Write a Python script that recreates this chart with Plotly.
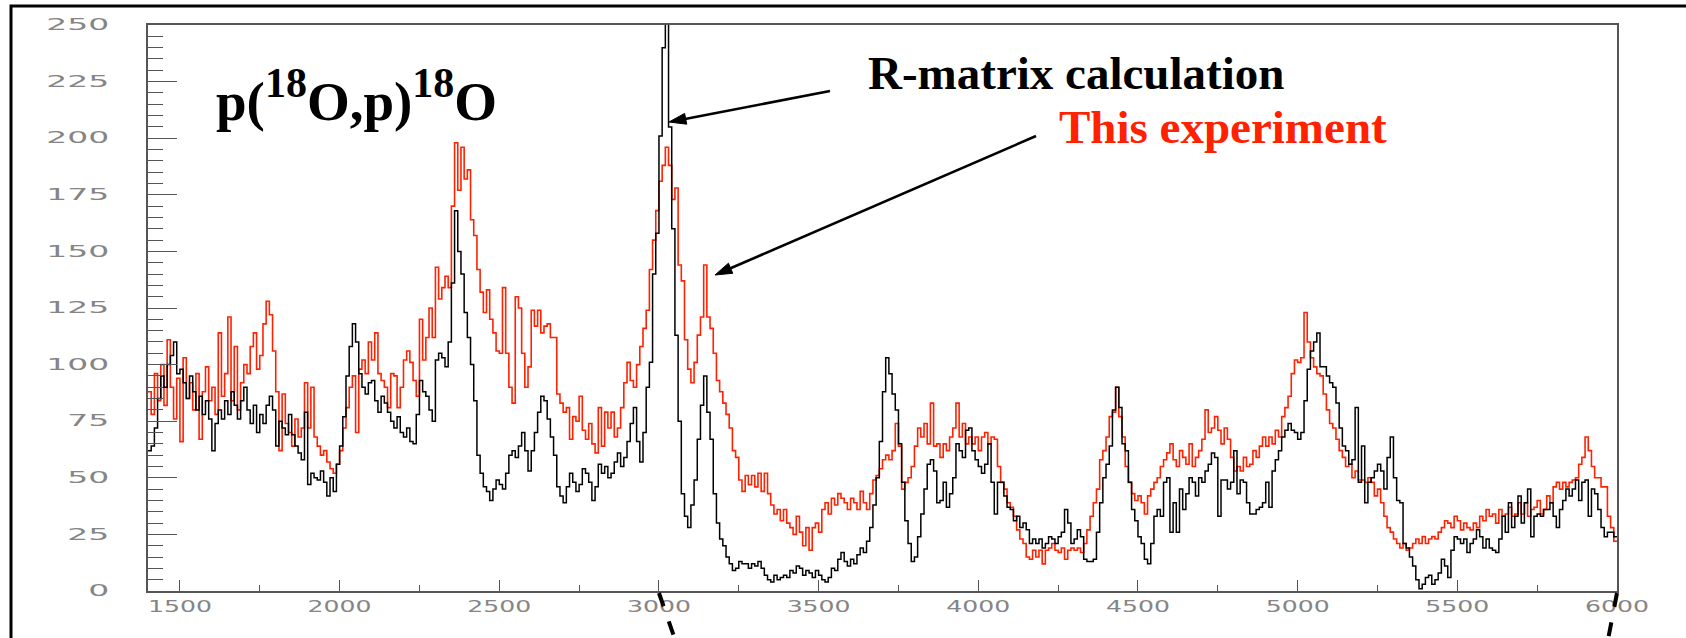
import plotly.graph_objects as go

# ---------------- data ----------------
BIN_START = 1400
BIN_WIDTH = 10
X_RANGE = [1400, 6000]
Y_RANGE = [0, 250]

# R-matrix calculation (black), one value per 10-unit bin, rows of 100 units
rmatrix = [
    62, 64, 72, 85, 95, 90, 100, 104, 110, 96,      # 1400
    98, 92, 85, 95, 88, 80, 86, 78, 84, 76,         # 1500
    62, 74, 80, 76, 84, 78, 88, 82, 76, 84,         # 1600
    90, 80, 74, 82, 70, 78, 74, 82, 86, 80,         # 1700
    64, 75, 72, 69, 78, 69, 64, 61, 58, 79,         # 1800
    47, 52, 50, 49, 53, 48, 42, 50, 44, 56,         # 1900
    64, 77, 95, 108, 118, 110, 96, 90, 87, 92,      # 2000
    93, 84, 79, 86, 83, 79, 75, 72, 77, 70,         # 2100
    68, 72, 66, 65, 78, 93, 88, 86, 80, 75,         # 2200
    102, 105, 103, 99, 110, 136, 168, 150, 140, 123,  # 2300
    112, 100, 84, 60, 52, 46, 44, 40, 45, 49,       # 2400
    47, 45, 52, 60, 62, 59, 64, 70, 62, 53,         # 2500
    62, 70, 79, 86, 84, 76, 68, 60, 46, 42,         # 2600
    39, 46, 52, 48, 44, 47, 54, 52, 48, 40,         # 2700
    46, 56, 52, 55, 50, 52, 57, 61, 55, 59,         # 2800
    66, 74, 81, 66, 57, 70, 90, 101, 140, 158,      # 2900
    201, 240, 300, 205, 160, 113, 75, 43, 33, 28,   # 3000
    38, 49, 67, 82, 95, 79, 67, 43, 30, 23,         # 3100
    20, 15, 12, 9, 10, 13, 12, 12, 10, 12,          # 3200
    11, 13, 10, 7, 5, 4, 7, 5, 6, 7,                # 3300
    6, 9, 8, 11, 10, 7, 9, 8, 6, 9,                 # 3400
    7, 5, 4, 6, 10, 9, 14, 17, 13, 11,              # 3500
    14, 12, 16, 19, 17, 22, 28, 38, 50, 66,         # 3600
    88, 103, 96, 87, 80, 65, 48, 31, 21, 13,        # 3700
    15, 24, 34, 45, 56, 58, 53, 39, 40, 48,         # 3800
    37, 43, 50, 65, 62, 59, 71, 72, 62, 58,         # 3900
    55, 52, 56, 65, 48, 34, 48, 48, 42, 37,         # 4000
    36, 31, 33, 28, 30, 27, 21, 23, 21, 23,         # 4100
    19, 21, 24, 23, 21, 24, 26, 36, 30, 21,         # 4200
    23, 27, 24, 14, 13, 13, 14, 26, 39, 50,         # 4300
    56, 64, 80, 90, 81, 65, 62, 48, 36, 31,         # 4400
    24, 21, 14, 12, 21, 33, 36, 33, 48, 50,         # 4500
    26, 39, 26, 45, 36, 43, 50, 48, 42, 50,         # 4600
    48, 53, 56, 61, 59, 33, 49, 49, 45, 48,         # 4700
    62, 43, 49, 48, 39, 34, 34, 36, 37, 39,         # 4800
    48, 37, 53, 58, 62, 68, 71, 74, 71, 70,         # 4900
    67, 70, 84, 98, 106, 110, 114, 99, 99, 95,      # 5000
    92, 90, 83, 72, 64, 62, 56, 58, 81, 48,         # 5100
    64, 39, 48, 50, 53, 56, 53, 45, 59, 68,         # 5200
    50, 40, 39, 21, 19, 15, 11, 5, 1, 3,            # 5300
    6, 7, 3, 5, 8, 14, 11, 6, 18, 24,               # 5400
    23, 21, 23, 17, 21, 23, 27, 24, 19, 23,         # 5500
    19, 18, 17, 23, 33, 26, 39, 28, 33, 42,         # 5600
    30, 39, 45, 24, 33, 34, 33, 36, 36, 39,         # 5700
    33, 28, 36, 40, 45, 42, 45, 49, 40, 48,         # 5800
    49, 33, 45, 43, 36, 28, 24, 26, 26, 24,         # 5900
]

# This experiment (red)
experiment = [
    88, 78, 96, 84, 100, 82, 111, 90, 76, 94,       # 1400
    66, 103, 85, 92, 80, 96, 67, 88, 99, 84,        # 1500
    90, 78, 114, 86, 96, 121, 84, 108, 80, 92,      # 1600
    100, 96, 108, 114, 98, 104, 118, 128, 122, 106, # 1700
    88, 62, 87, 74, 70, 64, 76, 68, 72, 92,         # 1800
    72, 90, 68, 64, 60, 62, 57, 54, 52, 56,         # 1900
    62, 72, 81, 90, 95, 70, 98, 102, 96, 110,       # 2000
    102, 114, 96, 93, 90, 81, 96, 95, 81, 90,       # 2100
    102, 106, 101, 93, 86, 120, 102, 112, 125, 112, # 2200
    143, 129, 134, 139, 134, 170, 198, 177, 196, 182,  # 2300
    186, 164, 157, 142, 132, 123, 133, 120, 114, 106,  # 2400
    105, 134, 105, 90, 83, 130, 125, 105, 90, 99,   # 2500
    124, 117, 124, 114, 117, 118, 112, 112, 87, 83, # 2600
    79, 81, 67, 77, 75, 86, 71, 67, 74, 65,         # 2700
    61, 81, 64, 79, 72, 79, 68, 72, 81, 92,         # 2800
    101, 93, 90, 100, 108, 116, 124, 142, 155, 168, # 2900
    181, 188, 196, 188, 173, 178, 144, 137, 111, 98,  # 3000
    92, 101, 113, 121, 144, 121, 116, 105, 93, 88,  # 3100
    83, 78, 72, 62, 59, 49, 44, 51, 47, 51,         # 3200
    46, 52, 44, 52, 43, 38, 34, 36, 31, 36,         # 3300
    30, 28, 25, 33, 26, 20, 28, 18, 28, 30,         # 3400
    26, 36, 39, 34, 41, 38, 43, 41, 39, 36,         # 3500
    41, 39, 36, 44, 39, 36, 43, 49, 51, 54,         # 3600
    58, 60, 58, 62, 74, 64, 45, 48, 50, 55,         # 3700
    64, 72, 68, 74, 65, 83, 64, 65, 59, 65,         # 3800
    62, 68, 72, 83, 68, 74, 65, 68, 65, 68,         # 3900
    62, 68, 70, 65, 68, 67, 55, 48, 45, 39,         # 4000
    37, 33, 27, 23, 21, 15, 14, 18, 15, 18,         # 4100
    12, 18, 19, 21, 18, 17, 19, 14, 18, 19,         # 4200
    18, 19, 17, 21, 27, 33, 39, 45, 58, 62,         # 4300
    68, 77, 79, 90, 77, 68, 55, 48, 43, 40,         # 4400
    42, 39, 34, 42, 45, 48, 50, 55, 58, 61,         # 4500
    65, 58, 55, 62, 59, 56, 65, 55, 59, 62,         # 4600
    67, 80, 70, 72, 77, 71, 65, 72, 67, 59,         # 4700
    53, 55, 53, 59, 55, 56, 62, 59, 64, 68,         # 4800
    64, 68, 65, 71, 68, 77, 81, 86, 96, 102,        # 4900
    101, 103, 123, 110, 103, 99, 96, 95, 87, 80,    # 5000
    74, 72, 67, 62, 59, 55, 56, 50, 53, 49,         # 5100
    49, 48, 50, 48, 42, 45, 39, 33, 28, 26,         # 5200
    23, 21, 19, 21, 18, 19, 21, 23, 21, 24,         # 5300
    21, 23, 24, 23, 26, 28, 31, 30, 28, 33,         # 5400
    31, 27, 30, 28, 27, 30, 28, 33, 31, 36,         # 5500
    33, 34, 30, 36, 33, 34, 37, 33, 34, 39,         # 5600
    34, 39, 33, 36, 37, 40, 34, 36, 42, 39,         # 5700
    46, 48, 45, 48, 46, 48, 49, 50, 56, 59,         # 5800
    68, 62, 55, 50, 50, 46, 46, 33, 28, 22,         # 5900
]

x_ticks = [1500, 2000, 2500, 3000, 3500, 4000, 4500, 5000, 5500, 6000]
y_ticks = [0, 25, 50, 75, 100, 125, 150, 175, 200, 225, 250]

TITLE = ("p(<sup><span style='font-size:42px'>18</span></sup>O,p)"
         "<sup><span style='font-size:42px'>18</span></sup>O")
LABEL_CALC = "R-matrix calculation"
LABEL_EXP = "This experiment"

RED = "#ff2200"

# ---------------- figure ----------------
def edges(vals):
    xs = [BIN_START + i * BIN_WIDTH for i in range(len(vals))] + [BIN_START + len(vals) * BIN_WIDTH]
    ys = list(vals) + [vals[-1]]
    return xs, ys

fig = go.Figure()
xr, yr = edges(experiment)
fig.add_trace(go.Scatter(x=xr, y=yr, mode="lines", line=dict(color=RED, width=1.6, shape="hv"),
                         name=LABEL_EXP, showlegend=False))
xb, yb = edges(rmatrix)
fig.add_trace(go.Scatter(x=xb, y=yb, mode="lines", line=dict(color="black", width=1.5, shape="hv"),
                         name=LABEL_CALC, showlegend=False))

W, H = 1686, 638
ML, MR, MT, MB = 148, 69, 25, 47
pw, ph = W - ML - MR, H - MT - MB

def px(xpix):
    return (xpix - ML) / pw

def py(ypix):
    return (H - MB - ypix) / ph

def xdata_to_paper(v):
    return (v - X_RANGE[0]) / (X_RANGE[1] - X_RANGE[0])

tickfont = dict(family="DejaVu Sans, Arial, sans-serif", size=15, color="#858585")
axcol = "#555555"

fig.update_layout(
    width=W, height=H, autosize=False,
    margin=dict(l=ML, r=MR, t=MT, b=MB, pad=0),
    paper_bgcolor="white", plot_bgcolor="white",
    showlegend=False,
    xaxis=dict(range=X_RANGE, tickvals=x_ticks, ticks="inside", ticklen=11, tickwidth=1.2,
               tickcolor=axcol, showline=True, linecolor=axcol, linewidth=1.5, mirror=True,
               showgrid=False, zeroline=False, tickfont=tickfont, ticklabelstandoff=1,
               minor=dict(dtick=250, tick0=1500, ticks="inside", ticklen=6, tickcolor=axcol,
                          tickwidth=1.2, showgrid=False)),
    yaxis=dict(range=Y_RANGE, tickvals=y_ticks, ticks="inside", ticklen=29, tickwidth=1.2,
               tickcolor=axcol, showline=True, linecolor=axcol, linewidth=1.5, mirror=True,
               showgrid=False, zeroline=False, tickfont=tickfont, ticklabelstandoff=34,
               minor=dict(dtick=5, tick0=0, ticks="inside", ticklen=15, tickcolor=axcol,
                          tickwidth=1.2, showgrid=False)),
)

serif = "Liberation Serif, Times New Roman, serif"
fig.add_annotation(xref="paper", yref="paper", x=px(214), y=py(96), xanchor="left", yanchor="middle",
                   text="<b>" + TITLE + "</b>", showarrow=False,
                   font=dict(family=serif, size=55, color="black"))
fig.add_annotation(xref="paper", yref="paper", x=px(866), y=py(73), xanchor="left", yanchor="middle",
                   text="<b>" + LABEL_CALC + "</b>", showarrow=False,
                   font=dict(family=serif, size=47, color="black"))
fig.add_annotation(xref="paper", yref="paper", x=px(1057), y=py(127), xanchor="left", yanchor="middle",
                   text="<b>" + LABEL_EXP + "</b>", showarrow=False,
                   font=dict(family=serif, size=47, color=RED))

# arrows drawn as shapes (line + filled head), pixel geometry converted to paper units
def add_arrow(tail, head, head_len=17.0, half_w=5.5, width=2.6):
    (tx, ty), (hx, hy) = tail, head
    dx, dy = hx - tx, hy - ty
    n = (dx * dx + dy * dy) ** 0.5
    ux, uy = dx / n, dy / n
    bx, by = hx - ux * head_len, hy - uy * head_len
    fig.add_shape(type="line", xref="paper", yref="paper",
                  x0=px(tx), y0=py(ty), x1=px(bx + ux * 2), y1=py(by + uy * 2),
                  line=dict(color="black", width=width))
    p1 = (bx - uy * half_w, by + ux * half_w)
    p2 = (bx + uy * half_w, by - ux * half_w)
    path = "M {:.5f} {:.5f} L {:.5f} {:.5f} L {:.5f} {:.5f} Z".format(
        px(hx), py(hy), px(p1[0]), py(p1[1]), px(p2[0]), py(p2[1]))
    fig.add_shape(type="path", xref="paper", yref="paper", path=path,
                  fillcolor="black", line=dict(color="black", width=1))

add_arrow((830, 91), (669, 122))
add_arrow((1036, 136), (715, 275))

# outer slide frame
fig.add_shape(type="rect", xref="paper", yref="paper",
              x0=px(11), x1=px(1700), y0=py(660), y1=py(6),
              line=dict(color="black", width=3), fillcolor="rgba(0,0,0,0)", layer="above")

# zoom guide lines below the axis
fig.add_shape(type="line", xref="paper", yref="paper",
              x0=xdata_to_paper(3000), y0=py(593), x1=xdata_to_paper(3000) + 18 / pw, y1=py(645),
              line=dict(color="black", width=4, dash="14px,16px"))
fig.add_shape(type="line", xref="paper", yref="paper",
              x0=xdata_to_paper(6000), y0=py(593), x1=xdata_to_paper(6000) - 10 / pw, y1=py(645),
              line=dict(color="black", width=4, dash="14px,16px"))

# horizontally stretched axis numerals, like the original ROOT canvas
post = (
    "function stretchTicks(){"
    "document.querySelectorAll('.ytick text').forEach(function(t){"
    "var n=t.textContent.length; t.setAttribute('textLength', n*21);"
    "t.setAttribute('lengthAdjust','spacingAndGlyphs');});"
    "document.querySelectorAll('.xtick text').forEach(function(t){"
    "var n=t.textContent.length; t.setAttribute('textLength', n*16);"
    "t.setAttribute('lengthAdjust','spacingAndGlyphs');});"
    "}"
    "stretchTicks();"
)

fig.write_html("out.html", post_script=post)
